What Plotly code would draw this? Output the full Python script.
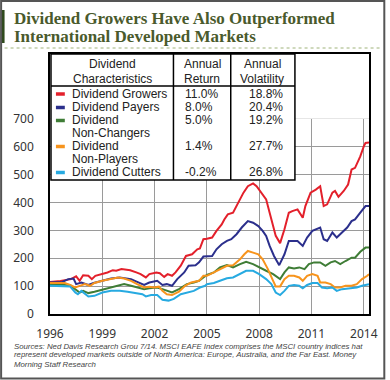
import plotly.graph_objects as go

# ---------------- data ----------------
growers_x = [1996.0, 1996.6, 1997.2, 1997.5, 1997.7, 1997.9, 1998.2, 1998.4, 1998.6, 1999.05, 1999.3,
             1999.6, 1999.8, 2000.1, 2000.6, 2000.95, 2001.2, 2001.5, 2001.7, 2002.1, 2002.3, 2002.55,
             2002.75, 2003.0, 2003.2, 2003.5, 2003.8, 2004.15, 2004.45, 2004.6, 2004.8, 2005.0, 2005.3,
             2005.55, 2005.85, 2006.0, 2006.2, 2006.5, 2006.8, 2007.1, 2007.35, 2007.65, 2007.85, 2008.1,
             2008.4, 2008.6, 2008.8, 2008.95, 2009.2, 2009.45, 2009.7, 2009.9, 2010.2, 2010.5, 2010.65,
             2010.95, 2011.25, 2011.5, 2011.7, 2011.9, 2012.2, 2012.35, 2012.55, 2012.85, 2013.1, 2013.3,
             2013.5, 2013.8, 2014.0, 2014.1, 2014.3]
growers_y = [115, 118, 125, 135, 119, 139, 137, 125, 137, 143, 149,
             157, 155, 161, 157, 149, 143, 131, 143, 149, 146, 133,
             143, 137, 149, 173, 208, 214, 232, 235, 268, 270, 274,
             298, 321, 339, 357, 363, 399, 435, 458, 468, 458, 435,
             411, 363, 315, 280, 254, 304, 363, 369, 375, 345, 387,
             435, 446, 458, 387, 393, 435, 441, 420, 441, 464, 518,
             524, 565, 601, 613, 615]

payers_x = [1996.0, 1996.7, 1997.05, 1997.35, 1997.5, 1997.8, 1998.2, 1998.5, 1999.0, 1999.5, 2000.0,
            2000.35, 2000.65, 2001.0, 2001.4, 2001.7, 2002.15, 2002.45, 2002.7, 2003.0, 2003.3, 2003.7,
            2003.95, 2004.35, 2004.55, 2004.8, 2005.0, 2005.3, 2005.55, 2005.85, 2006.15, 2006.4, 2006.7,
            2007.0, 2007.35, 2007.65, 2007.95, 2008.2, 2008.4, 2008.6, 2008.85, 2009.15, 2009.45, 2009.7,
            2010.0, 2010.2, 2010.5, 2010.75, 2011.05, 2011.5, 2011.7, 2011.9, 2012.2, 2012.45, 2012.75,
            2013.05, 2013.3, 2013.5, 2013.8, 2014.1, 2014.3]
payers_y = [113, 115, 125, 127, 107, 113, 104, 111, 119, 127, 131,
            127, 125, 115, 104, 113, 119, 104, 107, 101, 125, 149,
            173, 175, 185, 206, 206, 208, 232, 250, 262, 268, 286,
            310, 333, 327, 315, 298, 280, 244, 208, 175, 214, 262,
            262, 262, 244, 274, 298, 310, 268, 262, 292, 274, 292,
            310, 333, 339, 363, 387, 387]

changers_x = [1996.0, 1996.85, 1997.15, 1997.45, 1997.7, 1997.9, 1998.2, 1998.55, 1999.0, 1999.5, 2000.0,
              2000.25, 2000.65, 2001.0, 2001.4, 2001.7, 2002.15, 2002.45, 2002.7, 2003.0, 2003.4, 2003.85,
              2004.25, 2004.55, 2004.8, 2005.0, 2005.4, 2005.75, 2006.15, 2006.5, 2006.9, 2007.25, 2007.65,
              2008.0, 2008.4, 2008.8, 2009.2, 2009.45, 2009.7, 2010.0, 2010.3, 2010.6, 2010.85, 2011.15,
              2011.5, 2011.8, 2012.1, 2012.35, 2012.65, 2012.95, 2013.3, 2013.5, 2013.8, 2014.1, 2014.3]
changers_y = [107, 104, 104, 89, 77, 83, 75, 80, 87, 95, 104,
              107, 101, 95, 89, 92, 95, 89, 83, 77, 89, 107,
              113, 119, 131, 140, 149, 167, 175, 167, 179, 187, 179,
              167, 155, 143, 125, 149, 167, 163, 167, 161, 179, 185,
              185, 173, 185, 190, 179, 190, 202, 202, 223, 238, 238]

nonpayers_x = [1996.0, 1996.85, 1997.15, 1997.45, 1997.7, 1998.0, 1998.3, 1998.55, 1999.0, 1999.5, 1999.9,
               2000.25, 2000.65, 2001.0, 2001.4, 2001.7, 2001.95, 2002.25, 2002.45, 2002.7, 2003.0, 2003.4,
               2003.75, 2004.1, 2004.55, 2004.8, 2005.0, 2005.4, 2005.75, 2006.15, 2006.5, 2006.9, 2007.15,
               2007.35, 2007.65, 2007.95, 2008.2, 2008.5, 2008.8, 2008.95, 2009.2, 2009.45, 2009.7, 2010.0,
               2010.3, 2010.5, 2010.75, 2011.05, 2011.35, 2011.5, 2011.8, 2012.1, 2012.35, 2012.65, 2012.95,
               2013.3, 2013.6, 2013.9, 2014.2, 2014.3]
nonpayers_y = [111, 111, 104, 95, 101, 107, 101, 111, 119, 125, 131,
               127, 119, 107, 95, 98, 95, 98, 83, 71, 68, 80,
               101, 113, 119, 137, 137, 149, 161, 173, 175, 196, 214,
               226, 220, 214, 196, 161, 119, 99, 99, 125, 137, 137,
               131, 119, 137, 143, 137, 113, 113, 107, 95, 95, 101,
               101, 107, 125, 137, 143]

cutters_x = [1996.0, 1996.85, 1997.15, 1997.45, 1997.6, 1997.8, 1998.2, 1998.55, 1999.0, 1999.5, 2000.0,
             2000.45, 2001.0, 2001.3, 2001.5, 2001.8, 2002.15, 2002.45, 2002.8, 2003.1, 2003.5, 2003.85,
             2004.25, 2004.6, 2004.9, 2005.0, 2005.4, 2005.75, 2006.15, 2006.5, 2006.9, 2007.25, 2007.65,
             2008.0, 2008.4, 2008.7, 2008.95, 2009.2, 2009.45, 2009.7, 2010.0, 2010.3, 2010.5, 2010.75,
             2011.05, 2011.35, 2011.6, 2011.9, 2012.2, 2012.45, 2012.75, 2013.05, 2013.3, 2013.6, 2013.9,
             2014.2, 2014.3]
cutters_y = [101, 99, 99, 77, 71, 83, 63, 65, 77, 83, 83,
             80, 75, 71, 63, 68, 68, 51, 48, 54, 71, 77,
             83, 95, 101, 107, 111, 119, 128, 131, 143, 155, 155,
             143, 125, 107, 77, 68, 83, 101, 104, 101, 92, 104,
             111, 111, 95, 92, 95, 83, 89, 92, 92, 95, 101,
             104, 107]

series_names = ["Dividend Growers", "Dividend Payers", "Dividend Non-Changers",
                "Dividend Non-Players", "Dividend Cutters"]
series_colors = ["#e3202b", "#2b2f8c", "#3f7d36", "#f7941d", "#27aae1"]

# table content
table_labels = [["Dividend Growers"], ["Dividend Payers"], ["Dividend", "Non-Changers"],
                ["Dividend", "Non-Players"], ["Dividend Cutters"]]
annual_return = ["11.0%", "8.0%", "5.0%", "1.4%", "-0.2%"]
annual_volatility = ["18.8%", "20.4%", "19.2%", "27.7%", "26.8%"]

x_ticks = [1996, 1999, 2002, 2005, 2008, 2011, 2014]
y_ticks = [0, 100, 200, 300, 400, 500, 600, 700]

title_lines = ["Dividend Growers Have Also Outperformed", "International Developed Markets"]
source_lines = [
    "Sources: Ned Davis Research Grou 7/14. MSCI EAFE Index comprises the MSCI country indices hat",
    "represent developed markets outside of North America: Europe, Australia, and the Far East. Money",
    "Morning Staff Research",
]

# ---------------- figure ----------------
W, H = 390, 380
L, R, T, B = 50, 17, 54, 66
PW, PH = W - L - R, H - T - B


def px(x):
    return (x - L) / PW


def py(y):
    return (H - B - y) / PH


fig = go.Figure()
all_x = [growers_x, payers_x, changers_x, nonpayers_x, cutters_x]
all_y = [growers_y, payers_y, changers_y, nonpayers_y, cutters_y]
for name, col, xs, ys in zip(series_names, series_colors, all_x, all_y):
    fig.add_trace(go.Scatter(x=xs, y=ys, mode="lines", name=name,
                             line=dict(color=col, width=2), showlegend=False))

shapes = []
annots = []

# cover gridlines above 700
shapes.append(dict(type="rect", xref="x", yref="y", x0=1996, x1=2014.3, y0=700, y1=940,
                   fillcolor="white", line=dict(width=0), layer="between"))

# table box
tx0, tx1, ty0, ty1 = 51, 298, 54, 180
shapes.append(dict(type="rect", xref="paper", yref="paper", x0=px(tx0), x1=px(tx1),
                   y0=py(ty1), y1=py(ty0), fillcolor="white",
                   line=dict(color="black", width=1.5), layer="above"))
for cx in [175, 233]:
    shapes.append(dict(type="line", xref="paper", yref="paper", x0=px(cx), x1=px(cx),
                       y0=py(ty1), y1=py(ty0), line=dict(color="black", width=1.5), layer="above"))
shapes.append(dict(type="line", xref="paper", yref="paper", x0=px(tx0), x1=px(tx1),
                   y0=py(86), y1=py(86), line=dict(color="black", width=1.5), layer="above"))

tfont = dict(family="Liberation Sans", size=12, color="#222")


def txt(x, y, s, xanchor="center", font=tfont):
    annots.append(dict(xref="paper", yref="paper", x=px(x), y=py(y), text=s, showarrow=False,
                       xanchor=xanchor, yanchor="middle", font=font, borderpad=0))


txt(113, 64, "Dividend")
txt(113, 78.5, "Characteristics")
txt(204, 64, "Annual")
txt(204, 78.5, "Return")
txt(265, 64, "Annual")
txt(265, 78.5, "Volatility")

row_y = [[93.5], [107], [120, 133], [146, 159], [172]]
for lab, ys, col, ret, vol in zip(table_labels, row_y, series_colors, annual_return, annual_volatility):
    for line_txt, yy in zip(lab, ys):
        txt(71, yy, line_txt, xanchor="left")
    txt(186, ys[0], ret, xanchor="left")
    txt(250, ys[0], vol, xanchor="left")
    shapes.append(dict(type="line", xref="paper", yref="paper", x0=px(56), x1=px(65),
                       y0=py(ys[0] + 0.5), y1=py(ys[0] + 0.5),
                       line=dict(color=col, width=3.5), layer="above"))

# title
title_font = dict(family="Liberation Serif", size=17, color="#4a5a2c")
annots.append(dict(xref="paper", yref="paper", x=px(13), y=py(18), text="<b>%s</b>" % title_lines[0],
                   showarrow=False, xanchor="left", yanchor="middle", font=title_font, borderpad=0))
annots.append(dict(xref="paper", yref="paper", x=px(13), y=py(36.5), text="<b>%s</b>" % title_lines[1],
                   showarrow=False, xanchor="left", yanchor="middle", font=title_font, borderpad=0))
shapes.append(dict(type="rect", xref="paper", yref="paper", x0=px(0), x1=px(4), y0=py(43), y1=py(10),
                   fillcolor="#2f4a1c", line=dict(width=0)))
shapes.append(dict(type="line", xref="paper", yref="paper", x0=px(4), x1=px(386), y0=py(48), y1=py(48),
                   line=dict(color="#9fb37a", width=1, dash="dot")))

# source text
src_font = dict(family="Liberation Sans", size=7.8, color="#444")
for i, s in enumerate(source_lines):
    annots.append(dict(xref="paper", yref="paper", x=px(13), y=py(346 + 9 * i), text="<i>%s</i>" % s,
                       showarrow=False, xanchor="left", yanchor="middle", font=src_font, borderpad=0))

# outer border
shapes.append(dict(type="rect", xref="paper", yref="paper", x0=px(0.5), x1=px(388.5), y0=py(378.5), y1=py(1),
                   line=dict(color="#555", width=2), fillcolor="rgba(0,0,0,0)"))

fig.update_layout(
    width=W, height=H,
    margin=dict(l=L, r=R, t=T, b=B),
    paper_bgcolor="white", plot_bgcolor="white",
    shapes=shapes, annotations=annots,
    xaxis=dict(range=[1996, 2014.3], tickvals=x_ticks, ticktext=[str(v) for v in x_ticks],
               showgrid=True, gridcolor="#9a9a9a", gridwidth=1,
               showline=True, linecolor="black", linewidth=1.5, mirror=True,
               ticks="", ticklabelstandoff=8, zeroline=False,
               tickfont=dict(family="Noto Sans", size=12, color="#333")),
    yaxis=dict(range=[0, 932], tickvals=y_ticks, ticktext=[str(v) for v in y_ticks],
               showgrid=True, gridcolor="#9a9a9a", gridwidth=1,
               showline=True, linecolor="black", linewidth=1.5, mirror=True,
               ticks="", ticklabelstandoff=12, zeroline=False,
               tickfont=dict(family="Noto Sans", size=12, color="#333")),
)

fig.write_html("out.html", config={"displayModeBar": False},
               post_script="document.body.style.margin='0px';")
